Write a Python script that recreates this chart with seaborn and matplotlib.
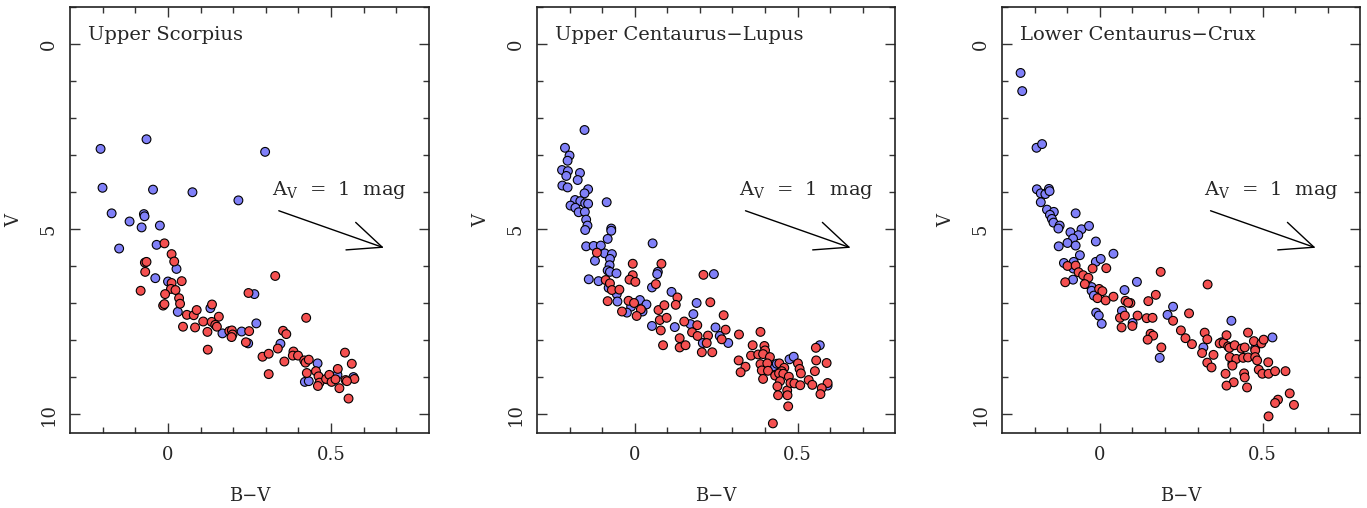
import numpy as np
import pandas as pd
import matplotlib
matplotlib.use("Agg")
import matplotlib.pyplot as plt
import seaborn as sns

# ---------------- data ----------------
titles = ["Upper Scorpius", "Upper Centaurus\u2212Lupus", "Lower Centaurus\u2212Crux"]

us_blue_bv = [-0.207, -0.066, 0.298, -0.201, -0.046, 0.075, 0.216, -0.173, -0.074, -0.072, -0.118, -0.081, -0.025,
              -0.150, -0.035, 0.026, -0.039, 0.000, 0.030, 0.130, 0.167, 0.226, 0.246, 0.265, 0.271, 0.345, 0.459,
              0.420, 0.432, 0.488, 0.520, 0.569]
us_blue_v = [2.83, 2.57, 2.91, 3.88, 3.93, 4.00, 4.22, 4.57, 4.59, 4.65, 4.79, 4.95, 4.90,
             5.52, 5.42, 6.07, 6.32, 6.41, 7.23, 7.13, 7.81, 7.76, 8.08, 6.75, 7.54, 8.09, 8.62,
             9.12, 9.10, 9.05, 8.93, 8.99]
us_red_bv = [-0.011, 0.011, 0.019, -0.071, -0.066, -0.070, -0.084, 0.011, 0.042, 0.009, 0.023, -0.009, 0.034,
             0.037, -0.015, -0.011, 0.058, 0.079, 0.088, 0.135, 0.046, 0.083, 0.108, 0.134, 0.156, 0.145, 0.150,
             0.121, 0.188, 0.196, 0.198, 0.195, 0.249, 0.239, 0.122, 0.247, 0.329, 0.424, 0.290, 0.309, 0.309,
             0.337, 0.353, 0.363, 0.357, 0.385, 0.383, 0.399, 0.418, 0.422, 0.432, 0.426, 0.454, 0.462, 0.465,
             0.460, 0.485, 0.495, 0.502, 0.514, 0.521, 0.526, 0.543, 0.564, 0.545, 0.554, 0.572, 0.549]
us_red_v = [5.38, 5.67, 5.87, 5.90, 5.88, 6.15, 6.66, 6.45, 6.40, 6.61, 6.64, 6.75, 6.86,
            7.01, 7.06, 7.02, 7.31, 7.32, 7.18, 7.03, 7.63, 7.65, 7.49, 7.50, 7.36, 7.58, 7.63,
            7.77, 7.75, 7.73, 7.84, 7.91, 7.75, 8.05, 8.25, 6.72, 6.26, 7.39, 8.44, 8.36, 8.91,
            8.22, 7.74, 7.83, 8.57, 8.30, 8.41, 8.41, 8.54, 8.60, 8.52, 8.88, 8.83, 8.97, 9.14,
            9.23, 9.04, 8.93, 9.12, 9.05, 8.77, 9.29, 8.33, 8.63, 9.07, 9.57, 9.04, 9.10]

ucl_blue_bv = [-0.154, -0.214, -0.200, -0.206, -0.223, -0.205, -0.210, -0.168, -0.175, -0.222, -0.206, -0.143,
               -0.154, -0.086, -0.183, -0.167, -0.197, -0.182, -0.172, -0.152, -0.143, -0.153, -0.149, -0.145,
               -0.152, -0.072, -0.072, -0.083, 0.055, -0.149, -0.126, -0.104, -0.092, -0.070, -0.122, -0.076,
               -0.077, -0.083, -0.076, -0.056, -0.141, -0.111, -0.080, -0.055, -0.053, 0.071, 0.069, 0.053,
               0.243, 0.113, 0.016, 0.036, -0.011, 0.024, -0.024, 0.053, 0.123, 0.171, 0.180, 0.190, 0.248,
               0.261, 0.287, 0.209, 0.426, 0.436, 0.475, 0.488, 0.568, 0.592]
ucl_blue_v = [2.32, 2.80, 3.01, 3.15, 3.40, 3.43, 3.56, 3.48, 3.67, 3.82, 3.87, 3.92,
              4.03, 4.27, 4.21, 4.24, 4.36, 4.42, 4.54, 4.30, 4.31, 4.53, 4.74, 4.90,
              5.02, 4.98, 5.04, 5.26, 5.38, 5.46, 5.45, 5.44, 5.65, 5.67, 5.85, 5.80,
              5.97, 6.11, 6.15, 6.19, 6.35, 6.40, 6.58, 6.75, 6.95, 6.15, 6.21, 6.57,
              6.21, 6.69, 6.91, 7.03, 7.09, 7.22, 7.25, 7.61, 7.64, 7.56, 7.29, 6.99, 7.65,
              7.88, 8.07, 8.07, 8.70, 8.63, 8.51, 8.44, 8.13, 9.22]
ucl_red_bv = [-0.116, -0.089, -0.076, -0.070, -0.047, -0.083, -0.006, -0.006, -0.016, 0.002, 0.082, 0.065,
              0.211, 0.131, 0.126, -0.019, -0.002, 0.019, -0.039, 0.006, 0.073, 0.091, 0.077, 0.098, 0.080,
              0.152, 0.192, 0.176, 0.193, 0.232, 0.273, 0.279, 0.267, 0.225, 0.221, 0.206, 0.238, 0.138,
              0.138, 0.156, 0.087, 0.320, 0.386, 0.362, 0.398, 0.400, 0.357, 0.379, 0.394, 0.415, 0.319,
              0.340, 0.325, 0.386, 0.407, 0.390, 0.409, 0.394, 0.444, 0.459, 0.451, 0.431, 0.443, 0.456,
              0.473, 0.446, 0.438, 0.468, 0.440, 0.469, 0.471, 0.424, 0.501, 0.506, 0.510, 0.478, 0.490,
              0.508, 0.534, 0.545, 0.553, 0.557, 0.556, 0.589, 0.592, 0.574, 0.570]
ucl_red_v = [5.63, 6.37, 6.46, 6.64, 6.63, 6.94, 5.93, 6.24, 6.36, 6.42, 5.93, 6.48,
             6.23, 6.84, 7.04, 6.93, 6.99, 7.16, 7.22, 7.34, 7.18, 7.05, 7.45, 7.39, 7.73,
             7.49, 7.59, 7.78, 7.88, 6.97, 7.32, 7.71, 7.97, 7.87, 8.07, 8.32, 8.32, 7.94,
             8.19, 8.13, 8.13, 7.84, 7.77, 8.13, 8.15, 8.27, 8.41, 8.38, 8.37, 8.45, 8.54,
             8.71, 8.86, 8.64, 8.62, 8.81, 8.82, 9.04, 8.62, 8.74, 8.83, 8.95, 8.89, 8.90,
             8.98, 9.10, 9.24, 9.35, 9.48, 9.48, 9.78, 10.24, 8.62, 8.77, 8.89, 9.15, 9.16,
             9.21, 9.07, 9.20, 8.83, 8.54, 8.20, 8.61, 9.15, 9.29, 9.45]

lcc_blue_bv = [-0.243, -0.238, -0.194, -0.177, -0.193, -0.181, -0.167, -0.156, -0.154, -0.181, -0.162, -0.141,
               -0.153, -0.147, -0.142, -0.123, -0.127, -0.074, -0.090, -0.056, -0.033, -0.066, -0.082, -0.099,
               -0.012, -0.126, -0.074, -0.061, 0.042, -0.110, -0.080, -0.081, -0.012, 0.003, -0.082, -0.043,
               -0.025, -0.025, -0.018, 0.076, 0.114, -0.011, -0.003, 0.006, 0.068, 0.101, 0.184, 0.208, 0.225,
               0.318, 0.404, 0.407, 0.477, 0.530, 0.374]
lcc_blue_v = [0.78, 1.27, 2.80, 2.70, 3.92, 4.03, 4.05, 3.91, 3.97, 4.27, 4.47, 4.53,
              4.61, 4.72, 4.82, 4.90, 4.98, 4.57, 5.08, 5.00, 4.91, 5.16, 5.25, 5.37,
              5.33, 5.46, 5.44, 5.70, 5.66, 5.91, 5.88, 6.06, 5.88, 5.80, 6.36, 6.48,
              6.56, 6.66, 6.79, 6.64, 6.42, 7.25, 7.33, 7.55, 7.20, 7.53, 8.47, 7.31, 7.09,
              8.19, 7.47, 8.62, 8.21, 7.92, 8.05]
lcc_red_bv = [-0.099, -0.074, -0.022, 0.020, -0.065, -0.051, -0.035, -0.106, -0.046, -0.002, 0.008, -0.007,
              0.018, 0.042, 0.079, 0.094, 0.087, 0.187, 0.331, 0.172, 0.149, 0.062, 0.077, 0.067, 0.100,
              0.116, 0.144, 0.162, 0.156, 0.164, 0.147, 0.189, 0.225, 0.274, 0.249, 0.263, 0.283, 0.322,
              0.330, 0.314, 0.349, 0.330, 0.343, 0.368, 0.380, 0.389, 0.394, 0.398, 0.414, 0.399, 0.419,
              0.407, 0.386, 0.411, 0.389, 0.435, 0.445, 0.455, 0.440, 0.455, 0.443, 0.445, 0.452, 0.473,
              0.477, 0.477, 0.483, 0.496, 0.503, 0.517, 0.488, 0.499, 0.518, 0.538, 0.570, 0.583, 0.547,
              0.538, 0.596, 0.518]
lcc_red_v = [5.99, 5.98, 6.06, 6.05, 6.16, 6.24, 6.31, 6.43, 6.48, 6.61, 6.67, 6.86,
             6.92, 6.82, 6.93, 6.99, 6.98, 6.15, 6.49, 6.77, 6.94, 7.39, 7.33, 7.65, 7.61,
             7.33, 7.40, 7.39, 7.82, 7.87, 7.98, 8.19, 7.47, 7.27, 7.73, 7.94, 8.10, 7.79,
             7.97, 8.34, 8.39, 8.60, 8.73, 8.08, 8.07, 7.86, 8.16, 8.20, 8.13, 8.45, 8.50,
             8.68, 8.90, 9.13, 9.22, 8.22, 8.19, 7.79, 8.47, 8.46, 8.89, 9.00, 9.27, 8.02,
             8.27, 8.45, 8.54, 8.08, 7.98, 8.59, 8.79, 8.90, 8.90, 8.83, 8.83, 9.43, 9.60,
             9.69, 9.74, 10.05]

x_ticks = [0, 0.5]
x_ticklabels = ["0", "0.5"]
y_ticks = [0, 5, 10]
y_ticklabels = ["0", "5", "10"]
av_mag = 1.0            # reddening vector length in A_V
rv = 3.1
av_start = (0.34, 4.5)  # start of reddening vector (B-V, V)

panels = [
    (us_blue_bv, us_blue_v, us_red_bv, us_red_v),
    (ucl_blue_bv, ucl_blue_v, ucl_red_bv, ucl_red_v),
    (lcc_blue_bv, lcc_blue_v, lcc_red_bv, lcc_red_v),
]

# ---------------- style ----------------
sns.set_style("ticks")
plt.rcParams["font.family"] = ["DejaVu Serif"]
plt.rcParams["mathtext.fontset"] = "dejavuserif"

BLUE = "#8080f8"
RED = "#f45050"

fig = plt.figure(figsize=(13.67, 5.08), dpi=100)
lefts = [0.0514, 0.3928, 0.7330]
width = 0.2622
bottom = 0.1476
height = 0.8386

FS = 13
FT = 14
for i, (bb, bv, rb, rvv) in enumerate(panels):
    ax = fig.add_axes([lefts[i], bottom, width, height])
    df = pd.DataFrame({
        "BV": list(bb) + list(rb),
        "V": list(bv) + list(rvv),
        "grp": ["blue"] * len(bb) + ["red"] * len(rb),
    })
    sns.scatterplot(data=df, x="BV", y="V", hue="grp", palette={"blue": BLUE, "red": RED},
                    s=40, edgecolor="black", linewidth=0.8, legend=False, ax=ax, zorder=3)
    ax.set_xlim(-0.3, 0.8)
    ax.set_ylim(10.5, -1.0)
    ax.set_xticks(x_ticks)
    ax.set_xticklabels(x_ticklabels, fontsize=FS)
    ax.set_yticks(y_ticks)
    ax.set_yticklabels(y_ticklabels, fontsize=FS, rotation=90, va="center")
    ax.set_xticks(np.arange(-0.2, 0.75, 0.1), minor=True)
    ax.set_yticks(np.arange(-1, 11, 1), minor=True)
    ax.tick_params(which="both", direction="in", top=True, right=True, width=1.0, color="#333333")
    ax.tick_params(which="major", length=7, pad=9)
    ax.tick_params(which="minor", length=4.5)
    for sp in ax.spines.values():
        sp.set_linewidth(1.2)
        sp.set_color("#222222")
    ax.set_xlabel("B\u2212V", fontsize=FS, labelpad=17)
    ax.set_ylabel("V", fontsize=FS, labelpad=12)
    ax.text(0.049, 0.934, titles[i], transform=ax.transAxes, fontsize=FT, va="center", ha="left")
    x0, y0 = av_start
    x1, y1 = x0 + av_mag / rv, y0 + av_mag
    ax.annotate("", xy=(x1, y1), xytext=(x0, y0),
                arrowprops=dict(arrowstyle="->,head_length=1.6,head_width=0.7", lw=1.0,
                                color="black", mutation_scale=15, shrinkA=0, shrinkB=0))
    ax.text(x0 - 0.02, y0 - 0.55, "A$_\\mathrm{V}$  =  1  mag", fontsize=FT, ha="left", va="center")

fig.savefig("out.png", dpi=100)
